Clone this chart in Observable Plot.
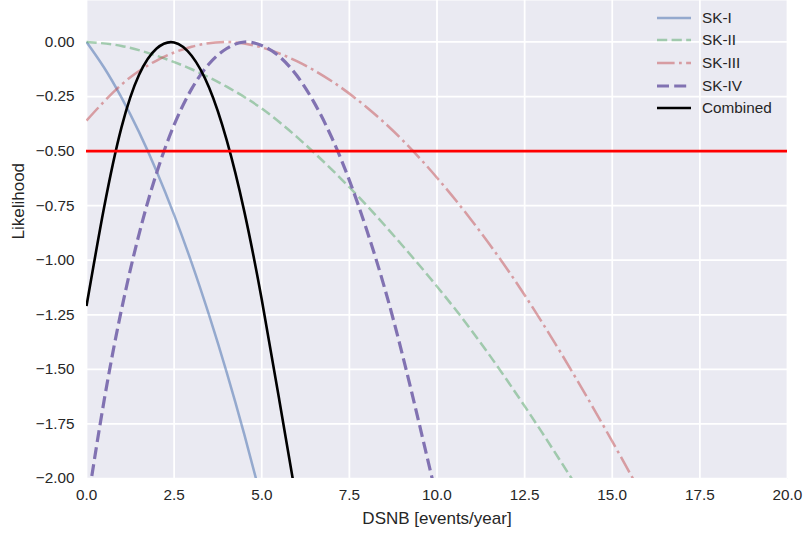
<!DOCTYPE html>
<html>
<head>
<meta charset="utf-8">
<script src="https://cdn.jsdelivr.net/npm/d3@7"></script>
<script src="https://cdn.jsdelivr.net/npm/@observablehq/plot@0.6"></script>
<style>
  body { margin: 0; background: #ffffff; font-family: "Liberation Sans", Arial, sans-serif; }
  #wrap { position: relative; width: 806px; height: 537px; }
  #legend { position: absolute; left: 655px; top: 6.5px; font-size: 15.3px; color: #262626; }
  #legend .row { height: 22.6px; display: flex; align-items: center; }
  #legend .row svg { width: 36px; height: 10px; margin-right: 11px; flex: none; }
</style>
</head>
<body>
<div id="wrap"><div id="chart"></div><div id="legend"></div></div>
<script>
// ---- data ----
const seriesNames = ["SK-I", "SK-II", "SK-III", "SK-IV", "Combined"];

const skI_x = [0, 0.5, 1, 1.5, 2, 2.5, 3, 3.5, 4, 4.5, 5];
const skI_y = [0, -0.117, -0.255, -0.413, -0.592, -0.792, -1.012, -1.253, -1.514, -1.797, -2.1];

const skII_x = [0, 1, 2, 3, 4, 5, 6, 7, 8, 9, 10, 11, 12, 13, 14];
const skII_y = [0, -0.018, -0.063, -0.125, -0.205, -0.305, -0.435, -0.585, -0.75, -0.93, -1.12, -1.325, -1.55, -1.79, -2.04];

const skIII_x = [0, 1, 2, 3, 4, 5, 6, 7, 8, 9, 10, 11, 12, 13, 14, 15, 16];
const skIII_y = [-0.36, -0.195, -0.085, -0.022, 0, -0.025, -0.088, -0.18, -0.30, -0.447, -0.622, -0.82, -1.04, -1.285, -1.55, -1.83, -2.12];

const skIV_x = [0, 0.5, 1, 1.5, 2, 2.5, 3, 3.5, 4, 4.5, 5, 5.5, 6, 6.5, 7, 7.5, 8, 8.5, 9, 9.5, 10];
const skIV_y = [-2.145, -1.645, -1.225, -0.88, -0.60, -0.38, -0.215, -0.10, -0.03, 0, -0.016, -0.066, -0.154, -0.279, -0.439, -0.634, -0.864, -1.124, -1.424, -1.754, -2.094];

const comb_x = [0, 0.5, 1, 1.5, 2, 2.5, 3, 3.5, 4, 4.5, 5, 5.5, 6];
const comb_y = [-1.21, -0.76, -0.39, -0.15, -0.03, -0.002, -0.063, -0.21, -0.45, -0.775, -1.18, -1.64, -2.11];

const threshold = [-0.5];

const xTicks = [0, 2.5, 5, 7.5, 10, 12.5, 15, 17.5, 20];
const yTicks = [0, -0.25, -0.5, -0.75, -1, -1.25, -1.5, -1.75, -2];

const xLabel = "DSNB [events/year]";
const yLabel = "Likelihood";

// ---- styles ----
const styles = {
  "SK-I":     {stroke: "#4C72B0", strokeOpacity: 0.55, strokeWidth: 2.5, dash: null},
  "SK-II":    {stroke: "#55A868", strokeOpacity: 0.5,  strokeWidth: 2.5, dash: "10.2,4.4"},
  "SK-III":   {stroke: "#C44E52", strokeOpacity: 0.5,  strokeWidth: 2.5, dash: "17.6,4.4,2.75,4.4"},
  "SK-IV":    {stroke: "#8172B2", strokeOpacity: 1,    strokeWidth: 3.2, dash: "12,5.2"},
  "Combined": {stroke: "#000000", strokeOpacity: 1,    strokeWidth: 2.6, dash: null}
};

const table = (xs, ys) => xs.map((x, i) => ({x, y: ys[i]}));
const seriesData = {
  "SK-I": table(skI_x, skI_y),
  "SK-II": table(skII_x, skII_y),
  "SK-III": table(skIII_x, skIII_y),
  "SK-IV": table(skIV_x, skIV_y),
  "Combined": table(comb_x, comb_y)
};

const lineMarks = seriesNames.map(name => {
  const s = styles[name];
  return Plot.line(seriesData[name], {
    x: "x", y: "y", curve: "natural", clip: true,
    stroke: s.stroke, strokeOpacity: s.strokeOpacity, strokeWidth: s.strokeWidth,
    strokeDasharray: s.dash ?? undefined, strokeLinecap: "butt", strokeLinejoin: "round"
  });
});

const fmtY = d => (d < 0 ? "\u2212" : "") + Math.abs(d).toFixed(2);

const chart = Plot.plot({
  width: 806,
  height: 537,
  marginTop: 0,
  marginBottom: 59,
  marginLeft: 86,
  marginRight: 19,
  style: {fontFamily: "'Liberation Sans', Arial, sans-serif", fontSize: "15.3px", color: "#262626", background: "#ffffff"},
  x: {domain: [0, 20]},
  y: {domain: [-2, 0.19]},
  marks: [
    Plot.frame({fill: "#EAEAF2", stroke: null}),
    Plot.gridX(xTicks, {stroke: "#ffffff", strokeOpacity: 1, strokeWidth: 1.75}),
    Plot.gridY(yTicks, {stroke: "#ffffff", strokeOpacity: 1, strokeWidth: 1.75}),
    Plot.axisX(xTicks, {tickSize: 0, tickPadding: 11, tickFormat: d => d.toFixed(1), label: null, fontSize: 15.3}),
    Plot.axisY(yTicks, {tickSize: 0, tickPadding: 12, tickFormat: fmtY, label: null, fontSize: 15.3}),
    Plot.text([xLabel], {text: d => d, frameAnchor: "bottom", dy: 40, lineAnchor: "middle", fontSize: 17, fill: "#262626"}),
    Plot.text([yLabel], {text: d => d, frameAnchor: "left", dx: -68, rotate: -90, lineAnchor: "middle", fontSize: 17, fill: "#262626"}),
    ...lineMarks,
    Plot.ruleY(threshold, {stroke: "#FF0000", strokeWidth: 2.8})
  ]
});
document.getElementById("chart").appendChild(chart);

// ---- legend ----
const legend = document.getElementById("legend");
for (const name of seriesNames) {
  const s = styles[name];
  const row = document.createElement("div");
  row.className = "row";
  const dash = s.dash ? ` stroke-dasharray="${s.dash}"` : "";
  row.innerHTML = `<svg viewBox="0 0 36 10"><line x1="2" x2="36" y1="5" y2="5" stroke="${s.stroke}" stroke-opacity="${s.strokeOpacity}" stroke-width="${s.strokeWidth}"${dash}/></svg><span>${name}</span>`;
  legend.appendChild(row);
}
</script>
</body>
</html>
